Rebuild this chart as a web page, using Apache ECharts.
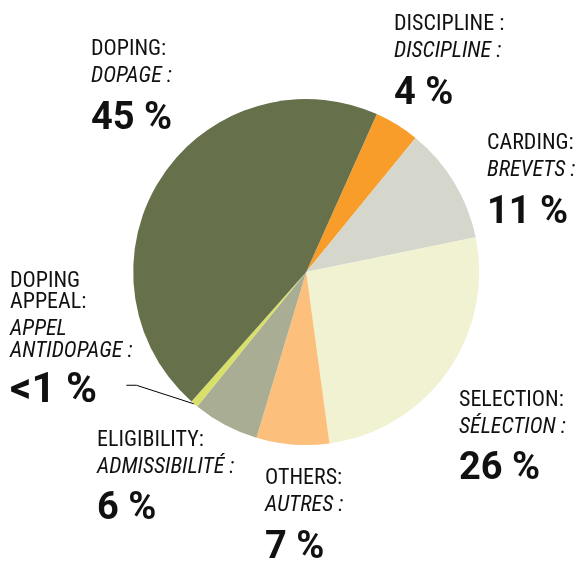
<!DOCTYPE html>
<html>
<head>
<meta charset="utf-8">
<script src="https://cdn.jsdelivr.net/npm/echarts@6/dist/echarts.min.js"></script>
<style>
  html, body { margin: 0; padding: 0; background: #fff; }
  #chart { width: 578px; height: 563px; }
</style>
</head>
<body>
<div id="chart"></div>
<script>
// slices in clockwise order, starting at the discipline slice
const enNames = ["DISCIPLINE :", "CARDING:", "SELECTION:", "OTHERS:", "ELIGIBILITY:", "DOPING\nAPPEAL:", "DOPING:"];
const frNames = ["DISCIPLINE :", "BREVETS :", "SÉLECTION :", "AUTRES :", "ADMISSIBILITÉ :", "APPEL\nANTIDOPAGE :", "DOPAGE :"];
const shares = [4.2, 10.9, 26.1, 6.8, 6.2, 0.7, 45.2];
const shareLabels = ["4 %", "11 %", "26 %", "7 %", "6 %", "<1 %", "45 %"];
const colors = ["#f89d29", "#d5d6cc", "#f1f2d1", "#fdbf7c", "#a8ad94", "#d9e069", "#66704a"];

const APPEAL = 5;
const FONT = "'Roboto Condensed', 'Liberation Sans Narrow', Roboto, sans-serif";
const PCT_FONT = "Roboto, 'Noto Sans', sans-serif";

// where each label block sits (left, top)
const labelPos = [
  [394, 14],
  [487, 133],
  [459, 389.5],
  [265, 468],
  [97, 429.5],
  [10, 270.5],
  [91, 39]
];
const appealPctPos = [10, 349];

const styled = (style, text) =>
  text.split("\n").map(t => `{${style}|${t}}`).join("\n");

const chart = echarts.init(document.getElementById("chart"));

const rich = {
  n: { fontFamily: FONT, fontSize: 22, lineHeight: 21.5, color: "#111" },
  i: { fontFamily: FONT, fontSize: 22, lineHeight: 21.5, color: "#111", fontStyle: "italic" },
  g: { fontSize: 1, lineHeight: 5.5 },
  h: { fontSize: 1, lineHeight: 9.5 },
  t: { fontSize: 1, lineHeight: 20 },
  p: { fontFamily: PCT_FONT, fontSize: 38, lineHeight: 44, fontWeight: "bold", color: "#111" },
  pa: { fontFamily: PCT_FONT, fontSize: 42, lineHeight: 44, fontWeight: "bold", color: "#111" }
};

const mainData = shares.map((v, i) => ({
  value: v,
  name: enNames[i],
  itemStyle: { color: colors[i] }
}));

const overlayData = shares.map((v, i) => ({
  value: v,
  name: enNames[i],
  label: { show: i === APPEAL },
  labelLine: { show: i === APPEAL }
}));

chart.setOption({
  animation: false,
  series: [
    {
      type: "pie",
      center: [306.2, 272],
      radius: [0, 173],
      startAngle: 65.9,
      clockwise: true,
      avoidLabelOverlap: false,
      emphasis: { disabled: true },
      data: mainData,
      label: {
        show: true,
        position: "outside",
        rich: rich,
        formatter: p => {
          const i = p.dataIndex;
          let s = styled("n", enNames[i]) + "\n{g| }\n" + styled("i", frNames[i]);
          if (i !== APPEAL) s += "\n{h| }\n" + styled("p", shareLabels[i]);
          return s;
        }
      },
      labelLine: { show: false },
      labelLayout: p => ({
        x: labelPos[p.dataIndex][0],
        y: labelPos[p.dataIndex][1],
        align: "left",
        verticalAlign: "top"
      })
    },
    {
      // transparent copy that only carries the "<1 %" label and its leader line
      type: "pie",
      center: [306.2, 272],
      radius: [0, 173],
      startAngle: 65.9,
      clockwise: true,
      silent: true,
      avoidLabelOverlap: false,
      emphasis: { disabled: true },
      itemStyle: { color: "rgba(0,0,0,0)" },
      data: overlayData,
      label: {
        position: "outside",
        rich: rich,
        // trailing no-break spaces keep the leader line clear of the text
        formatter: p => "{t| }\n" + styled("pa", shareLabels[p.dataIndex] + "\u00a0\u00a0\u2009")
      },
      labelLine: {
        length: 10,
        length2: 10,
        lineStyle: { color: "#000", width: 1 }
      },
      labelLayout: () => ({
        x: appealPctPos[0],
        y: appealPctPos[1],
        align: "left",
        verticalAlign: "top"
      })
    }
  ]
});
</script>
</body>
</html>
